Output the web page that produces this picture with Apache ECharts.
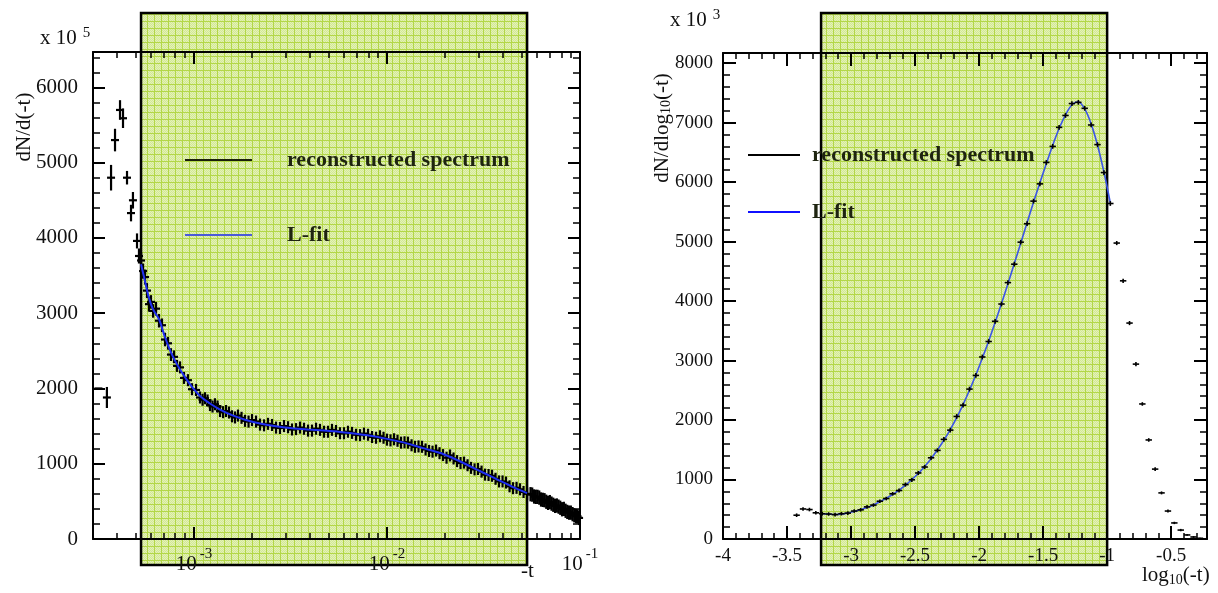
<!DOCTYPE html>
<html><head><meta charset="utf-8">
<script src="https://cdn.jsdelivr.net/npm/echarts@6/dist/echarts.min.js"></script>
<style>html,body{margin:0;padding:0;background:#fff}#c{width:1218px;height:593px}</style>
</head><body><div id="c"></div><script>
// ---------- LEFT PANEL: dN/d(-t) (x 10^5) vs -t ----------
const leftT = [
 3.20e-4,3.54e-4,3.72e-4,3.90e-4,4.14e-4,4.29e-4,4.50e-4,4.72e-4,4.83e-4,5.07e-4,5.19e-4,
 5.32e-4,5.45e-4,5.58e-4,5.71e-4,5.85e-4,5.99e-4,6.14e-4,6.36e-4,6.59e-4,6.83e-4,7.08e-4,7.34e-4,7.60e-4,7.88e-4,8.17e-4,8.47e-4,8.88e-4,9.31e-4,9.77e-4,1.025e-3,1.075e-3,
 1.108e-3,1.141e-3,1.176e-3,1.211e-3,1.248e-3,1.285e-3,1.325e-3,1.365e-3,1.415e-3,1.466e-3,1.519e-3,1.575e-3,1.632e-3,
 1.691e-3,1.764e-3,1.839e-3,1.918e-3,1.999e-3,2.097e-3,2.199e-3,2.307e-3,2.419e-3,2.538e-3,2.662e-3,2.791e-3,2.928e-3,
 3.072e-3,3.221e-3,3.379e-3,3.543e-3,3.717e-3,3.90e-3,4.089e-3,4.29e-3,4.498e-3,4.72e-3,4.948e-3,5.19e-3,5.444e-3,
 5.71e-3,5.989e-3,6.28e-3,6.592e-3,6.91e-3,7.252e-3,7.60e-3,7.978e-3,8.37e-3,8.775e-3,9.20e-3,9.598e-3,1.0e-2,
 1.043e-2,1.088e-2,1.134e-2,1.183e-2,1.233e-2,1.285e-2,1.341e-2,1.397e-2,1.457e-2,1.519e-2,
 1.585e-2,1.652e-2,1.722e-2,1.796e-2,1.872e-2,1.952e-2,2.035e-2,2.122e-2,2.213e-2,2.307e-2,
 2.405e-2,2.508e-2,2.615e-2,2.725e-2,2.843e-2,2.963e-2,3.090e-2,3.221e-2,3.359e-2,3.502e-2,
 3.651e-2,3.806e-2,3.970e-2,4.138e-2,4.315e-2,4.498e-2,4.691e-2,4.89e-2,5.099e-2,5.32e-2,
 5.542e-2,5.655e-2,5.78e-2,5.905e-2,6.026e-2,6.150e-2,6.28e-2,6.420e-2,6.552e-2,6.686e-2,
 6.83e-2,6.979e-2,7.122e-2,7.269e-2,7.43e-2,7.587e-2,7.743e-2,7.902e-2,8.07e-2,8.249e-2,
 8.419e-2,8.590e-2,8.78e-2,8.967e-2,9.152e-2,9.339e-2,9.54e-2,9.714e-2,9.89e-2];
const leftN = [
 2000,1880,4800,5300,5700,5590,4800,4330,4500,3960,3760,
 3700,3560,3480,3300,3120,3150,3030,3060,2900,2840,2650,2600,2450,2420,2300,2280,2140,2110,1990,1980,1880,
 1850,1870,1840,1780,1760,1790,1760,1700,1685,1700,1680,1630,1615,
 1640,1610,1570,1560,1580,1560,1520,1510,1530,1515,1480,1475,1500,
 1485,1455,1460,1480,1465,1440,1440,1465,1450,1425,1425,1450,1435,
 1405,1405,1425,1410,1385,1380,1400,1385,1355,1345,1365,1345,1320,
 1310,1325,1305,1280,1285,1280,1245,1225,1230,1225,
 1190,1170,1160,1175,1140,1115,1080,1110,1070,1035,
 1010,1015,980,945,925,930,895,855,850,840,
 800,765,765,750,700,675,680,660,625,600,
 595,590,565,560,560,550,525,520,515,495,
 480,490,470,455,440,445,430,415,395,400,
 375,360,350,350,330,315,305,300,280];
const leftErr = [
 0,140,170,150,130,130,90,110,110,100,100,
 110,100,100,100,100,90,90,90,90,90,90,85,85,85,80,80,80,80,80,80,80,
 80,80,80,80,80,80,80,80,80,80,80,80,80,
 80,80,80,80,80,80,80,80,80,80,80,80,80,
 80,80,80,80,80,80,80,80,80,80,80,80,80,
 80,80,80,80,80,80,80,80,80,80,80,80,80,
 80,80,80,80,80,80,80,80,80,80,
 80,80,80,80,80,80,80,80,80,80,
 80,80,80,80,80,80,80,80,80,80,
 80,80,80,80,80,80,80,80,80,80,
 95,95,95,95,95,95,95,95,95,95,
 95,95,95,95,95,95,95,95,95,95,
 95,95,95,95,95,95,95,95,95];
const leftFitT = [5.32e-4,5.58e-4,5.85e-4,6.14e-4,6.59e-4,7.08e-4,7.60e-4,8.17e-4,8.88e-4,9.77e-4,1.075e-3,
 1.211e-3,1.365e-3,1.575e-3,1.839e-3,2.199e-3,2.662e-3,3.221e-3,3.90e-3,4.72e-3,5.71e-3,6.91e-3,8.37e-3,
 1.0e-2,1.183e-2,1.397e-2,1.652e-2,1.952e-2,2.307e-2,2.725e-2,3.221e-2,3.806e-2,4.498e-2,5.32e-2];
const leftFitN = [3650,3420,3200,3050,2920,2680,2480,2320,2170,2020,1900,
 1800,1720,1645,1585,1535,1497,1472,1455,1440,1422,1397,1367,
 1330,1290,1240,1185,1130,1050,960,870,780,690,610];
const leftXMajor = [1e-3,1e-2,1e-1];
const leftXMinor = [4e-4,5e-4,6e-4,7e-4,8e-4,9e-4,2e-3,3e-3,4e-3,5e-3,6e-3,7e-3,8e-3,9e-3,2e-2,3e-2,4e-2,5e-2,6e-2,7e-2,8e-2,9e-2];
const leftYMajor = [0,1000,2000,3000,4000,5000,6000];
const leftBand = [5.32e-4, 5.32e-2];

// ---------- RIGHT PANEL: dN/dlog10(-t) (x 10^3) vs log10(-t) ----------
const rightLogT = [-3.425,-3.375,-3.325,-3.275,
 -3.225,-3.175,-3.125,-3.075,-3.025,-2.975,-2.925,-2.875,-2.825,-2.775,-2.725,-2.675,-2.625,-2.575,-2.525,
 -2.475,-2.425,-2.375,-2.325,-2.275,-2.225,-2.175,-2.125,-2.075,-2.025,-1.975,-1.925,-1.875,-1.825,-1.775,
 -1.725,-1.675,-1.625,-1.575,-1.525,-1.475,-1.425,-1.375,-1.325,-1.275,-1.225,-1.175,-1.125,-1.075,-1.025,-0.975,
 -0.925,-0.875,-0.825,-0.775,-0.725,-0.675,-0.625,-0.575,-0.525,-0.475,-0.425,-0.375,-0.325,-0.275];
const rightN = [400,505,495,440,
 425,420,410,425,435,470,490,540,570,635,680,760,815,915,995,
 1110,1210,1365,1490,1675,1830,2060,2250,2520,2750,3060,3320,3660,3950,4310,
 4620,4990,5300,5680,5970,6330,6600,6920,7120,7320,7340,7240,6960,6630,6160,5640,
 4975,4340,3630,2940,2270,1665,1175,775,470,270,150,68,34,12];
const rightErr = [30,30,30,30,
 30,30,30,30,30,30,30,30,30,30,30,30,35,35,35,
 35,35,35,35,40,40,40,40,40,40,40,40,40,40,40,
 40,40,40,40,40,40,40,40,40,40,40,40,40,40,40,40,
 35,35,35,35,30,30,30,25,25,20,20,15,15,10];
const rightFitLogT = [-3.225,-3.175,-3.125,-3.075,-3.025,-2.975,-2.925,-2.875,-2.825,-2.775,-2.725,-2.675,-2.625,-2.575,-2.525,
 -2.475,-2.425,-2.375,-2.325,-2.275,-2.225,-2.175,-2.125,-2.075,-2.025,-1.975,-1.925,-1.875,-1.825,-1.775,
 -1.725,-1.675,-1.625,-1.575,-1.525,-1.475,-1.425,-1.375,-1.325,-1.275,-1.225,-1.175,-1.125,-1.075,-1.025,-0.975];
const rightFitN = [425,418,412,418,438,462,495,530,572,625,685,748,822,905,1000,
 1100,1220,1350,1500,1660,1840,2040,2260,2500,2760,3040,3330,3640,3960,4290,
 4630,4970,5320,5660,5990,6310,6620,6900,7130,7300,7350,7230,6980,6620,6170,5650];
const rightXMajor = [-4,-3.5,-3,-2.5,-2,-1.5,-1,-0.5];
const rightYMajor = [0,1000,2000,3000,4000,5000,6000,7000,8000];
const rightBinHalf = 0.025;
const rightBand = [-3.234, -1.0];

// ---------- layout / style ----------
const FONT = 'Liberation Serif';
const BLUE = '#1f2ff0';
const LX = [-3.523, -1];
const LY = [0, 6470];
const RX = [-4, -0.22];
const RY = [0, 8170];

function subdiv(major, n, lo, hi) {
  const out = [];
  const step = (major[1] - major[0]) / n;
  const start = major[0] - step * n * 2;
  for (let v = start; v <= hi + 1e-9; v += step) {
    const r = Math.round(v * 1000) / 1000;
    if (r < lo - 1e-9) continue;
    if (major.some(m => Math.abs(m - r) < 1e-6)) continue;
    out.push(r);
  }
  return out;
}
const leftYMinor = subdiv(leftYMajor, 5, LY[0], LY[1]);
const rightXMinor = subdiv(rightXMajor, 5, RX[0], RX[1]);
const rightYMinor = subdiv(rightYMajor, 5, RY[0], RY[1]);

const axLine = {show: true, onZero: false, lineStyle: {color: '#000', width: 2}};
const noLine = {show: false, onZero: false};
function tick(len, w, vals) { return {show: true, inside: true, length: len, customValues: vals, lineStyle: {color: '#000', width: w}}; }
const noLabel = {show: false};

function mkAxis(grid, pos, ext, ticks, len, w, label, showLine) {
  return {gridIndex: grid, type: 'value', position: pos, min: ext[0], max: ext[1],
    axisLine: showLine ? axLine : noLine, splitLine: {show: false}, minorTick: {show: false},
    axisTick: tick(len, w, ticks), axisLabel: label || noLabel};
}

const leftData = leftT.map((t, i) => [Math.log10(t), leftN[i], leftErr[i] == null ? 80 : leftErr[i]]);
const leftFit = leftFitT.map((t, i) => [Math.log10(t), leftFitN[i]]);
const rightData = rightLogT.map((x, i) => [x, rightN[i], rightErr[i] == null ? 30 : rightErr[i]]);
const rightFit = rightFitLogT.map((x, i) => [x, rightFitN[i]]);

function crossLeft(params, api) {
  const x = api.value(0), y = api.value(1), e = api.value(2);
  const c = api.coord([x, y]);
  const t = api.coord([x, y + e]), b = api.coord([x, y - e]);
  const st = {stroke: '#000', lineWidth: 2.2};
  return {type: 'group', children: [
    {type: 'line', shape: {x1: c[0] - 4, y1: c[1], x2: c[0] + 4, y2: c[1]}, style: st},
    {type: 'line', shape: {x1: c[0], y1: t[1], x2: c[0], y2: b[1]}, style: st}
  ]};
}
function crossRight(params, api) {
  const x = api.value(0), y = api.value(1), e = api.value(2);
  const l = api.coord([x - rightBinHalf, y]), r = api.coord([x + rightBinHalf, y]);
  const c = api.coord([x, y]);
  const t = api.coord([x, y + e]), b = api.coord([x, y - e]);
  const st = {stroke: '#000', lineWidth: 1.6};
  return {type: 'group', children: [
    {type: 'line', shape: {x1: l[0], y1: c[1], x2: r[0], y2: c[1]}, style: st},
    {type: 'line', shape: {x1: c[0], y1: t[1], x2: c[0], y2: b[1]}, style: st}
  ]};
}

const chart = echarts.init(document.getElementById('c'), null, {renderer: 'canvas'});

const leftXLabel = {customValues: leftXMajor.map(Math.log10), margin: 5,
  formatter: v => '{b|10}{s|' + Math.round(v) + '}',
  rich: {b: {fontFamily: FONT, fontSize: 21, color: '#111', padding: [10, 0, 0, 0]},
         s: {fontFamily: FONT, fontSize: 15, color: '#111', padding: [0, 0, 11, 3]}}};
const leftYLabel = {customValues: leftYMajor, margin: 15, formatter: v => String(v),
  fontFamily: FONT, fontSize: 21, color: '#111'};
const rightXLabel = {customValues: rightXMajor, margin: 8, formatter: v => String(Math.round(v * 10) / 10),
  fontFamily: FONT, fontSize: 19, color: '#111'};
const rightYLabel = {customValues: rightYMajor, margin: 10, formatter: v => String(v),
  fontFamily: FONT, fontSize: 19, color: '#111'};
const legendText = {fontFamily: FONT, fontSize: 22, fontWeight: 'bold', color: '#1e2410'};

const option = {
  animation: false,
  backgroundColor: '#fff',
  grid: [
    {left: 93, top: 52, width: 487, height: 487, outerBoundsMode: 'none', containLabel: false},
    {left: 723, top: 53, width: 484, height: 486, outerBoundsMode: 'none', containLabel: false}
  ],
  xAxis: [
    mkAxis(0, 'bottom', LX, leftXMajor.map(Math.log10), 12, 2, leftXLabel, true),
    mkAxis(0, 'bottom', LX, leftXMinor.map(Math.log10), 6, 1.5, null, false),
    mkAxis(0, 'top', LX, leftXMajor.map(Math.log10), 12, 2, null, true),
    mkAxis(0, 'top', LX, leftXMinor.map(Math.log10), 6, 1.5, null, false),
    mkAxis(1, 'bottom', RX, rightXMajor, 13, 2, rightXLabel, true),
    mkAxis(1, 'bottom', RX, rightXMinor, 6, 1.5, null, false),
    mkAxis(1, 'top', RX, rightXMajor, 13, 2, null, true),
    mkAxis(1, 'top', RX, rightXMinor, 6, 1.5, null, false)
  ],
  yAxis: [
    mkAxis(0, 'left', LY, leftYMajor, 12, 2, leftYLabel, true),
    mkAxis(0, 'left', LY, leftYMinor, 7, 1.5, null, false),
    mkAxis(0, 'right', LY, leftYMajor, 12, 2, null, true),
    mkAxis(0, 'right', LY, leftYMinor, 7, 1.5, null, false),
    mkAxis(1, 'left', RY, rightYMajor, 13, 2, rightYLabel, true),
    mkAxis(1, 'left', RY, rightYMinor, 7, 1.5, null, false),
    mkAxis(1, 'right', RY, rightYMajor, 13, 2, null, true),
    mkAxis(1, 'right', RY, rightYMinor, 7, 1.5, null, false)
  ],
  legend: [
    {left: 185, top: 149, padding: 0, orient: 'vertical', itemWidth: 67, itemHeight: 2, itemGap: 53, icon: 'rect',
     selectedMode: false, textStyle: Object.assign({padding: [0, 0, 0, 30]}, legendText),
     data: [{name: 'reconstructed spectrum', itemStyle: {color: '#1a1f0a'}}, {name: 'L-fit', itemStyle: {color: '#4a5ad8'}}]},
    {left: 748, top: 144, padding: 0, orient: 'vertical', itemWidth: 52, itemHeight: 2, itemGap: 35, icon: 'rect',
     selectedMode: false, textStyle: Object.assign({padding: [0, 0, 0, 7]}, legendText),
     data: [{name: 'reconstructed spectrum', itemStyle: {color: '#000'}}, {name: 'L-fit', itemStyle: {color: '#1010ff'}}]}
  ],
  series: [
    {name: 'reconstructed spectrum', type: 'custom', xAxisIndex: 0, yAxisIndex: 0, z: 3,
     itemStyle: {color: '#000'}, renderItem: crossLeft, data: leftData, encode: {x: 0, y: 1}},
    {name: 'L-fit', type: 'line', xAxisIndex: 0, yAxisIndex: 0, z: 4, smooth: 0.3, showSymbol: false,
     itemStyle: {color: BLUE}, lineStyle: {color: BLUE, width: 2}, data: leftFit},
    {name: 'L-fit', type: 'line', xAxisIndex: 4, yAxisIndex: 4, z: 3, smooth: 0.3, showSymbol: false,
     itemStyle: {color: BLUE}, lineStyle: {color: '#3b55e6', width: 1.6}, data: rightFit},
    {name: 'reconstructed spectrum', type: 'custom', xAxisIndex: 4, yAxisIndex: 4, z: 4,
     itemStyle: {color: '#000'}, renderItem: crossRight, data: rightData, encode: {x: 0, y: 1}}
  ]
};
chart.setOption(option);

// green highlight bands (annotation) + axis titles
const pc = document.createElement('canvas');
pc.width = 7; pc.height = 7;
const g = pc.getContext('2d');
g.fillStyle = '#d3e994'; g.fillRect(0, 0, 7, 7);
g.fillStyle = '#e3f1b9';
for (let i = 0; i < 7; i++) for (let j = 0; j < 7; j++) if ((i + j) % 2 === 0) g.fillRect(i, j, 1, 1);
g.fillStyle = '#b3d748'; g.fillRect(0, 0, 7, 1); g.fillRect(0, 0, 1, 7);

const lx0 = chart.convertToPixel({xAxisIndex: 0}, Math.log10(leftBand[0]));
const lx1 = chart.convertToPixel({xAxisIndex: 0}, Math.log10(leftBand[1]));
const rx0 = chart.convertToPixel({xAxisIndex: 4}, rightBand[0]);
const rx1 = chart.convertToPixel({xAxisIndex: 4}, rightBand[1]);
const bandTop = 13, bandBottom = 565;
const rich = {sup: {fontFamily: FONT, fontSize: 15, fill: '#111', padding: [0, 0, 10, 6]},
              sub: {fontFamily: FONT, fontSize: 14, fill: '#111', padding: [9, 0, 0, 0]},
              n: {fontFamily: FONT, fontSize: 21, fill: '#111'}};
const txt = (x, y, text, extra) => Object.assign({type: 'text', x: x, y: y, z: 10, silent: true,
  style: {text: text, rich: rich, fontFamily: FONT, fontSize: 21, fill: '#111'}}, extra || {});

chart.setOption({
  graphic: [
    {type: 'rect', z: -10, shape: {x: lx0, y: bandTop, width: lx1 - lx0, height: bandBottom - bandTop},
     style: {fill: {image: pc, repeat: 'repeat'}, stroke: '#000', lineWidth: 2.5}, silent: true},
    {type: 'rect', z: -10, shape: {x: rx0, y: bandTop, width: rx1 - rx0, height: bandBottom - bandTop},
     style: {fill: {image: pc, repeat: 'repeat'}, stroke: '#000', lineWidth: 2.5}, silent: true},
    txt(40, 26, '{n|x 10}{sup|5}'),
    txt(24, 127, '{n|dN/d(-t)}', {rotation: Math.PI / 2,
      style: {text: '{n|dN/d(-t)}', rich: rich, align: 'center', verticalAlign: 'middle'}}),
    txt(521, 561, '{n|-t}'),
    txt(670, 8, '{n|x 10}{sup|3}'),
    txt(662, 128, '', {rotation: Math.PI / 2,
      style: {text: '{n|dN/dlog}{sub|10}{n|(-t)}', rich: rich, align: 'center', verticalAlign: 'middle'}}),
    txt(1142, 564, '{n|log}{sub|10}{n|(-t)}')
  ]
});
</script></body></html>
